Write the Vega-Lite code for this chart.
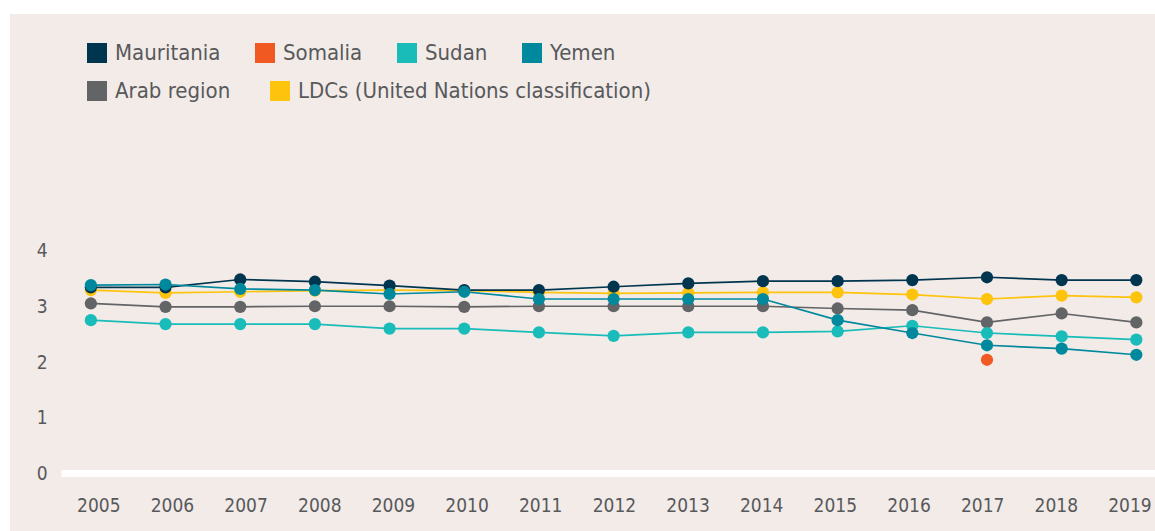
{
  "$schema": "https://vega.github.io/schema/vega-lite/v6.json",
  "width": 1145,
  "height": 517,
  "autosize": {"type": "none"},
  "padding": {"left": 10, "top": 14, "right": 0, "bottom": 0},
  "background": "white",
  "config": {
    "font": "DejaVu Sans Condensed, Liberation Sans Narrow, sans-serif",
    "view": {"fill": "#F2EBE8", "stroke": null}
  },
  "data": {
    "values": [
      {"series": "Arab region", "year": 2005, "value": 3.05},
      {"series": "Arab region", "year": 2006, "value": 2.99},
      {"series": "Arab region", "year": 2007, "value": 2.99},
      {"series": "Arab region", "year": 2008, "value": 3.0},
      {"series": "Arab region", "year": 2009, "value": 3.0},
      {"series": "Arab region", "year": 2010, "value": 2.99},
      {"series": "Arab region", "year": 2011, "value": 3.0},
      {"series": "Arab region", "year": 2012, "value": 3.0},
      {"series": "Arab region", "year": 2013, "value": 3.0},
      {"series": "Arab region", "year": 2014, "value": 3.0},
      {"series": "Arab region", "year": 2015, "value": 2.96},
      {"series": "Arab region", "year": 2016, "value": 2.93},
      {"series": "Arab region", "year": 2017, "value": 2.71},
      {"series": "Arab region", "year": 2018, "value": 2.87},
      {"series": "Arab region", "year": 2019, "value": 2.71},
      {"series": "LDCs (United Nations classification)", "year": 2005, "value": 3.29},
      {"series": "LDCs (United Nations classification)", "year": 2006, "value": 3.24},
      {"series": "LDCs (United Nations classification)", "year": 2007, "value": 3.26},
      {"series": "LDCs (United Nations classification)", "year": 2008, "value": 3.28},
      {"series": "LDCs (United Nations classification)", "year": 2009, "value": 3.29},
      {"series": "LDCs (United Nations classification)", "year": 2010, "value": 3.28},
      {"series": "LDCs (United Nations classification)", "year": 2011, "value": 3.25},
      {"series": "LDCs (United Nations classification)", "year": 2012, "value": 3.23},
      {"series": "LDCs (United Nations classification)", "year": 2013, "value": 3.24},
      {"series": "LDCs (United Nations classification)", "year": 2014, "value": 3.25},
      {"series": "LDCs (United Nations classification)", "year": 2015, "value": 3.25},
      {"series": "LDCs (United Nations classification)", "year": 2016, "value": 3.21},
      {"series": "LDCs (United Nations classification)", "year": 2017, "value": 3.13},
      {"series": "LDCs (United Nations classification)", "year": 2018, "value": 3.19},
      {"series": "LDCs (United Nations classification)", "year": 2019, "value": 3.16},
      {"series": "Sudan", "year": 2005, "value": 2.75},
      {"series": "Sudan", "year": 2006, "value": 2.68},
      {"series": "Sudan", "year": 2007, "value": 2.68},
      {"series": "Sudan", "year": 2008, "value": 2.68},
      {"series": "Sudan", "year": 2009, "value": 2.6},
      {"series": "Sudan", "year": 2010, "value": 2.6},
      {"series": "Sudan", "year": 2011, "value": 2.53},
      {"series": "Sudan", "year": 2012, "value": 2.47},
      {"series": "Sudan", "year": 2013, "value": 2.53},
      {"series": "Sudan", "year": 2014, "value": 2.53},
      {"series": "Sudan", "year": 2015, "value": 2.55},
      {"series": "Sudan", "year": 2016, "value": 2.65},
      {"series": "Sudan", "year": 2017, "value": 2.52},
      {"series": "Sudan", "year": 2018, "value": 2.46},
      {"series": "Sudan", "year": 2019, "value": 2.4},
      {"series": "Mauritania", "year": 2005, "value": 3.34},
      {"series": "Mauritania", "year": 2006, "value": 3.34},
      {"series": "Mauritania", "year": 2007, "value": 3.48},
      {"series": "Mauritania", "year": 2008, "value": 3.44},
      {"series": "Mauritania", "year": 2009, "value": 3.37},
      {"series": "Mauritania", "year": 2010, "value": 3.29},
      {"series": "Mauritania", "year": 2011, "value": 3.29},
      {"series": "Mauritania", "year": 2012, "value": 3.35},
      {"series": "Mauritania", "year": 2013, "value": 3.41},
      {"series": "Mauritania", "year": 2014, "value": 3.45},
      {"series": "Mauritania", "year": 2015, "value": 3.45},
      {"series": "Mauritania", "year": 2016, "value": 3.47},
      {"series": "Mauritania", "year": 2017, "value": 3.52},
      {"series": "Mauritania", "year": 2018, "value": 3.47},
      {"series": "Mauritania", "year": 2019, "value": 3.47},
      {"series": "Yemen", "year": 2005, "value": 3.38},
      {"series": "Yemen", "year": 2006, "value": 3.39},
      {"series": "Yemen", "year": 2007, "value": 3.31},
      {"series": "Yemen", "year": 2008, "value": 3.29},
      {"series": "Yemen", "year": 2009, "value": 3.22},
      {"series": "Yemen", "year": 2010, "value": 3.26},
      {"series": "Yemen", "year": 2011, "value": 3.13},
      {"series": "Yemen", "year": 2012, "value": 3.13},
      {"series": "Yemen", "year": 2013, "value": 3.13},
      {"series": "Yemen", "year": 2014, "value": 3.13},
      {"series": "Yemen", "year": 2015, "value": 2.75},
      {"series": "Yemen", "year": 2016, "value": 2.52},
      {"series": "Yemen", "year": 2017, "value": 2.3},
      {"series": "Yemen", "year": 2018, "value": 2.24},
      {"series": "Yemen", "year": 2019, "value": 2.13},
      {"series": "Somalia", "year": 2017, "value": 2.04}
    ]
  },
  "encoding": {
    "y": {
      "field": "value",
      "type": "quantitative",
      "scale": {"domain": [0, 4], "range": [459.5, 236.5], "nice": false},
      "axis": {
        "title": null,
        "values": [0, 1, 2, 3, 4],
        "orient": "left",
        "offset": -37,
        "domain": false,
        "ticks": false,
        "grid": false,
        "labelPadding": 0,
        "labelFontSize": 19,
        "labelColor": "#58595B"
      }
    }
  },
  "layer": [
    {
      "mark": {"type": "line", "strokeWidth": 1.7},
      "encoding": {
        "x": {
          "field": "year",
          "type": "quantitative",
          "scale": {"domain": [2004.6, 2019.25], "range": [51, 1145], "nice": false, "zero": false},
          "axis": {
            "title": null,
            "orient": "bottom",
            "offset": -58,
            "labels": false,
            "domain": true,
            "domainColor": "#FFFFFF",
            "domainWidth": 7,
            "ticks": false,
            "grid": false
          }
        },
        "stroke": {
          "field": "series",
          "type": "nominal",
          "scale": {
            "domain": ["Arab region", "LDCs (United Nations classification)", "Mauritania", "Somalia", "Sudan", "Yemen"],
            "range": ["#636466", "#FDC30D", "#00354F", "#F05A22", "#19BCB9", "#00899D"]
          },
          "legend": {
            "title": null,
            "values": ["Arab region", "LDCs (United Nations classification)"],
            "orient": "none",
            "legendX": 76,
            "legendY": 66,
            "direction": "horizontal",
            "symbolType": "square",
            "symbolSize": 100,
            "symbolStrokeWidth": 10,
            "symbolOpacity": 1,
            "labelFontSize": 22,
            "labelColor": "#58595B",
            "labelOffset": 7,
            "columnPadding": 24,
            "padding": 0,
            "labelLimit": 600
          }
        }
      }
    },
    {
      "mark": {"type": "point", "filled": true, "size": 150, "opacity": 1},
      "encoding": {
        "x": {
          "field": "year",
          "type": "quantitative",
          "scale": {"domain": [2004.6, 2019.25], "range": [51, 1145], "nice": false, "zero": false},
          "axis": null
        },
        "fill": {
          "field": "series",
          "type": "nominal",
          "scale": {
            "domain": ["Mauritania", "Somalia", "Sudan", "Yemen", "Arab region", "LDCs (United Nations classification)"],
            "range": ["#00354F", "#F05A22", "#19BCB9", "#00899D", "#636466", "#FDC30D"]
          },
          "legend": {
            "title": null,
            "values": ["Mauritania", "Somalia", "Sudan", "Yemen"],
            "orient": "none",
            "legendX": 76,
            "legendY": 28,
            "direction": "horizontal",
            "symbolType": "square",
            "symbolSize": 400,
            "symbolStrokeWidth": 0,
            "symbolOpacity": 1,
            "labelFontSize": 22,
            "labelColor": "#58595B",
            "labelOffset": 7,
            "columnPadding": 33,
            "padding": 0,
            "labelLimit": 600
          }
        }
      }
    },
    {
      "mark": {"type": "point", "opacity": 0},
      "encoding": {
        "x": {
          "field": "year",
          "type": "quantitative",
          "scale": {"domain": [2005, 2019], "range": [88.3, 1119.5], "nice": false, "zero": false},
          "axis": {
            "title": null,
            "values": [2005, 2006, 2007, 2008, 2009, 2010, 2011, 2012, 2013, 2014, 2015, 2016, 2017, 2018, 2019],
            "format": "d",
            "orient": "bottom",
            "offset": -58,
            "domain": false,
            "ticks": false,
            "grid": false,
            "labelPadding": 32,
            "labelBaseline": "middle",
            "labelFontSize": 19,
            "labelColor": "#58595B",
            "labelFlush": false,
            "labelOverlap": false
          }
        }
      }
    }
  ],
  "resolve": {"scale": {"x": "independent"}, "axis": {"x": "independent"}}
}
